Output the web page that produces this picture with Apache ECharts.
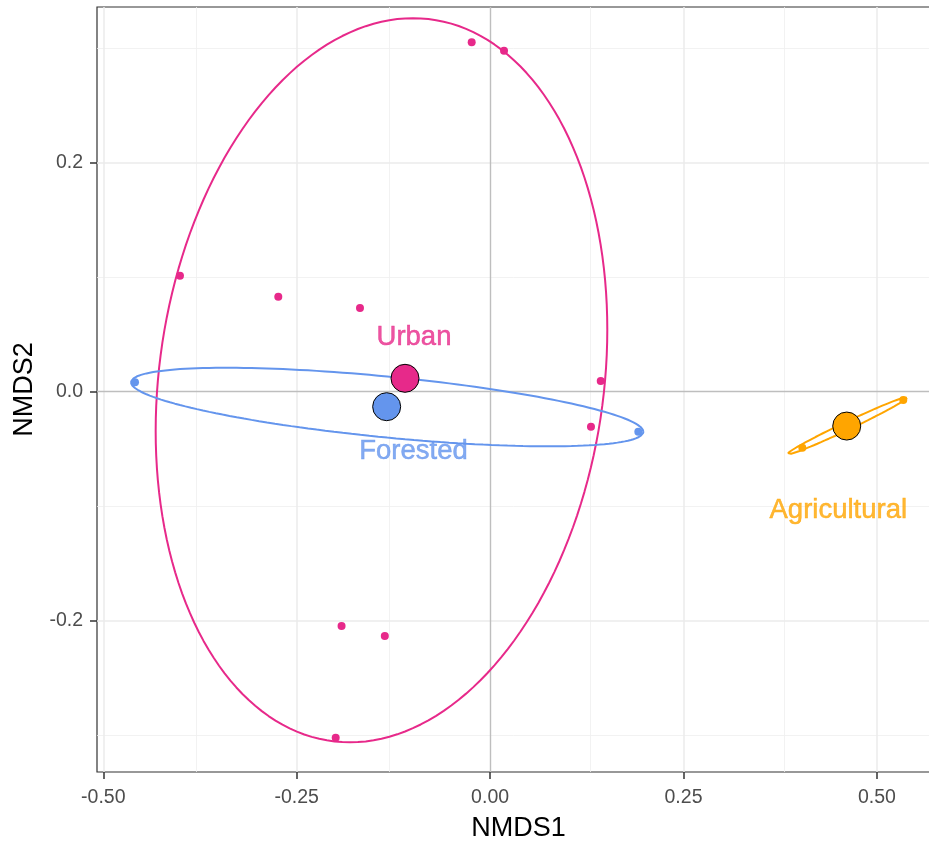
<!DOCTYPE html>
<html>
<head>
<meta charset="utf-8">
<script src="https://cdn.jsdelivr.net/npm/echarts@6/dist/echarts.min.js"></script>
<style>
html,body{margin:0;padding:0;background:#fff;}
#chart{width:929px;height:844px;}
</style>
</head>
<body>
<div id="chart"></div>
<script>
// ---- data ----
var groups = ['Urban', 'Forested', 'Agricultural'];
var groupColors = ['#E7298A', '#6495ED', '#FFA500'];

var urbanX = [-0.4009, -0.2738, -0.1682, -0.0238, 0.0180, 0.1430, 0.1304, -0.1920, -0.1361, -0.1996];
var urbanY = [0.1013, 0.0830, 0.0731, 0.3052, 0.2978, 0.0093, -0.0306, -0.2046, -0.2134, -0.3022];
var forestedX = [-0.4590, 0.1916];
var forestedY = [0.0082, -0.0349];
var agriX = [0.4036, 0.5341];
var agriY = [-0.0489, -0.0072];

// centroids (Urban, Forested, Agricultural)
var centroidX = [-0.1100, -0.1337, 0.4610];
var centroidY = [0.0117, -0.0131, -0.0300];

// group label positions
var labelX = [-0.0984, -0.0990, 0.4501];
var labelY = [0.0478, -0.0518, -0.1033];

// ellipse parameters per group: centre x, centre y, half-width x, half-height y, correlation
var ellipseCX = [-0.1404, -0.1330, 0.4616];
var ellipseCY = [0.0100, -0.0134, -0.0298];
var ellipseSX = [0.2919, 0.3311, 0.0772];
var ellipseSY = [0.3162, 0.0343, 0.0249];
var ellipseR = [0.14, -0.6285, 0.988];

// axis ticks
var xTicks = [-0.50, -0.25, 0.00, 0.25, 0.50];
var yTicks = [-0.2, 0.0, 0.2];
var xMinor = [-0.375, -0.125, 0.125, 0.375];
var yMinor = [-0.3, -0.1, 0.1, 0.3];

// ---- build ----
function pairs(xs, ys) { return xs.map(function (v, i) { return [v, ys[i]]; }); }

function ellipsePath(g) {
  var pts = [];
  var n = 180;
  var k = Math.sqrt(1 - ellipseR[g] * ellipseR[g]);
  for (var i = 0; i <= n; i++) {
    var t = 2 * Math.PI * i / n;
    pts.push([
      ellipseCX[g] + ellipseSX[g] * Math.cos(t),
      ellipseCY[g] + ellipseSY[g] * (ellipseR[g] * Math.cos(t) + k * Math.sin(t))
    ]);
  }
  return pts;
}

var FONT = "'Liberation Sans', Arial, sans-serif";
var gridLines = [];
xMinor.forEach(function (v) { gridLines.push({ xAxis: v, lineStyle: { color: '#EFEFEF', width: 0.8, type: 'solid' } }); });
yMinor.forEach(function (v) { gridLines.push({ yAxis: v, lineStyle: { color: '#EFEFEF', width: 0.8, type: 'solid' } }); });
xTicks.forEach(function (v) { if (v !== 0) gridLines.push({ xAxis: v, lineStyle: { color: '#EBEBEB', width: 1.5, type: 'solid' } }); });
yTicks.forEach(function (v) { if (v !== 0) gridLines.push({ yAxis: v, lineStyle: { color: '#EBEBEB', width: 1.5, type: 'solid' } }); });
gridLines.push({ xAxis: 0, lineStyle: { color: '#BEBEBE', width: 1.4, type: 'solid' } });
gridLines.push({ yAxis: 0, lineStyle: { color: '#BEBEBE', width: 1.4, type: 'solid' } });

var pointSets = [pairs(urbanX, urbanY), pairs(forestedX, forestedY), pairs(agriX, agriY)];

var series = [];
series.push({
  type: 'scatter', data: [], z: 1, silent: true,
  markLine: { z: 1, silent: true, symbol: ['none', 'none'], label: { show: false }, animation: false, data: gridLines }
});
groups.forEach(function (g, i) {
  series.push({
    type: 'line', name: g + ' ellipse', data: ellipsePath(i), showSymbol: false, symbol: 'none',
    smooth: false, z: 6, silent: true, animation: false,
    lineStyle: { color: groupColors[i], width: 2 }
  });
});
groups.forEach(function (g, i) {
  series.push({
    type: 'scatter', name: g, data: pointSets[i], symbolSize: 8, z: 7, animation: false,
    itemStyle: { color: groupColors[i], opacity: 1 }
  });
});
groups.forEach(function (g, i) {
  series.push({
    type: 'scatter', name: g + ' centroid', data: [[centroidX[i], centroidY[i]]], symbolSize: 28, z: 8, animation: false,
    itemStyle: { color: groupColors[i], borderColor: '#000', borderWidth: 1, opacity: 1 }
  });
});
series.push({
  type: 'scatter', name: 'labels', z: 9, animation: false, symbolSize: 0,
  data: groups.map(function (g, i) {
    return { value: [labelX[i], labelY[i]], name: g,
      label: { show: true, position: 'inside', formatter: g, color: groupColors[i],
        textBorderColor: groupColors[i], textBorderWidth: 0.5,
        fontSize: 27.5, fontFamily: FONT, align: 'center', verticalAlign: 'middle' } };
  })
});

var chart = echarts.init(document.getElementById('chart'), null, { renderer: 'canvas' });
chart.setOption({
  animation: false,
  backgroundColor: '#ffffff',
  grid: { left: 97, top: 7, right: -11, height: 765, show: true, borderColor: '#333333', borderWidth: 1.2,
    backgroundColor: 'transparent', containLabel: false, outerBoundsMode: 'none' },
  xAxis: {
    type: 'value', min: -0.50814, max: 0.58157,
    name: 'NMDS1', nameLocation: 'middle', nameGap: 43,
    nameTextStyle: { color: '#000', fontSize: 27, fontFamily: FONT },
    axisLine: { show: false, onZero: false },
    splitLine: { show: false },
    axisTick: { show: true, customValues: xTicks, length: 7, lineStyle: { color: '#333333', width: 1.5 } },
    axisLabel: { show: true, customValues: xTicks, margin: 16, color: '#4D4D4D', fontSize: 19.5, fontFamily: FONT,
      formatter: function (v) { return v.toFixed(2); } }
  },
  yAxis: {
    type: 'value', min: -0.33214, max: 0.33598,
    name: 'NMDS2', nameLocation: 'middle', nameGap: 57,
    nameTextStyle: { color: '#000', fontSize: 27, fontFamily: FONT },
    axisLine: { show: false, onZero: false },
    splitLine: { show: false },
    axisTick: { show: true, customValues: yTicks, length: 7, lineStyle: { color: '#333333', width: 1.5 } },
    axisLabel: { show: true, customValues: yTicks, margin: 14, color: '#4D4D4D', fontSize: 19.5, fontFamily: FONT,
      formatter: function (v) { return v.toFixed(1); } }
  },
  series: series
});
</script>
</body>
</html>
